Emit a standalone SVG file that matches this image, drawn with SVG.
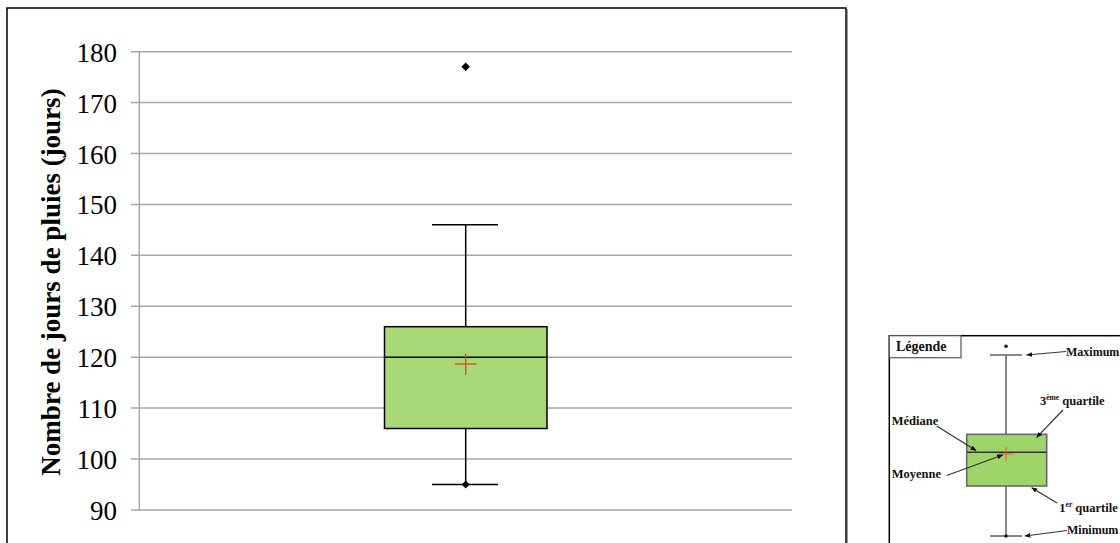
<svg xmlns="http://www.w3.org/2000/svg" width="1120" height="543" viewBox="0 0 1120 543">
<style>
.grid{stroke:#a6a6a6;stroke-width:1.5;fill:none}
.tick{font-family:"Liberation Serif",serif;font-size:27px;fill:#000;text-anchor:end}
.title{font-family:"Liberation Serif",serif;font-size:27px;font-weight:bold;fill:#000;text-anchor:middle}
.blk{stroke:#000;stroke-width:1.5;fill:none}
.lg{font-family:"Liberation Serif",serif;font-weight:bold;fill:#111}
.ann{stroke:#333;stroke-width:1.2;fill:none;marker-end:url(#ah)}
.lgline{stroke:#666;stroke-width:1.6;fill:none}
</style>
<defs>
<marker id="ah" viewBox="0 0 10 10" refX="9" refY="5" markerWidth="6" markerHeight="6" orient="auto" markerUnits="userSpaceOnUse">
<path d="M0,1 L10,5 L0,9 z" fill="#111"/>
</marker>
</defs>
<rect x="0" y="0" width="1120" height="543" fill="#fff"/>
<g id="chart-frame">
<rect x="7" y="8" width="839" height="545" fill="#fff" stroke="#000" stroke-width="1.5"/>
<line x1="847.5" y1="9" x2="847.5" y2="543" stroke="#999" stroke-width="1"/>
</g>
<g id="grid">
<line class="grid" x1="131" y1="51.7" x2="792" y2="51.7"/>
<line class="grid" x1="131" y1="102.6" x2="792" y2="102.6"/>
<line class="grid" x1="131" y1="153.5" x2="792" y2="153.5"/>
<line class="grid" x1="131" y1="204.4" x2="792" y2="204.4"/>
<line class="grid" x1="131" y1="255.3" x2="792" y2="255.3"/>
<line class="grid" x1="131" y1="306.3" x2="792" y2="306.3"/>
<line class="grid" x1="131" y1="357.2" x2="792" y2="357.2"/>
<line class="grid" x1="131" y1="408.1" x2="792" y2="408.1"/>
<line class="grid" x1="131" y1="459" x2="792" y2="459"/>
<line class="grid" x1="131" y1="510" x2="792" y2="510"/>
<line class="grid" x1="139.3" y1="51.7" x2="139.3" y2="510"/>
</g>
<g id="y-labels">
<text class="tick" x="117" y="61.7">180</text>
<text class="tick" x="117" y="112.6">170</text>
<text class="tick" x="117" y="163.5">160</text>
<text class="tick" x="117" y="214.4">150</text>
<text class="tick" x="117" y="265.3">140</text>
<text class="tick" x="117" y="316.3">130</text>
<text class="tick" x="117" y="367.2">120</text>
<text class="tick" x="117" y="418.1">110</text>
<text class="tick" x="117" y="469">100</text>
<text class="tick" x="117" y="520">90</text>
</g>
<g id="y-title">
<text class="title" transform="translate(60,282) rotate(-90)">Nombre de jours de pluies (jours)</text>
</g>
<g id="boxplot">
<line class="blk" x1="465.7" y1="224.8" x2="465.7" y2="326.7"/>
<line class="blk" x1="432" y1="224.8" x2="498" y2="224.8" stroke-width="2"/>
<rect x="384.5" y="326.7" width="162.5" height="101.8" fill="#a9d977" stroke="#000" stroke-width="1.5"/>
<line class="blk" x1="384.5" y1="357.2" x2="547" y2="357.2" stroke-width="2"/>
<line class="blk" x1="465.7" y1="428.5" x2="465.7" y2="484.5"/>
<line class="blk" x1="432" y1="484.5" x2="498" y2="484.5"/>
<path d="M465.7,480.5 L469.7,484.5 L465.7,488.5 L461.7,484.5 z" fill="#000"/>
<path d="M465.7,62.5 L470,66.8 L465.7,71.1 L461.4,66.8 z" fill="#000"/>
<line x1="455" y1="364" x2="476.4" y2="364" stroke="#f03a2a" stroke-width="1.3"/>
<line x1="465.7" y1="353.5" x2="465.7" y2="374.7" stroke="#f03a2a" stroke-width="1.3"/>
</g>
<g id="legend">
<rect x="889.3" y="335.7" width="240" height="220" fill="#fff" stroke="#000" stroke-width="1.5"/>
<rect x="889.3" y="335.7" width="71.7" height="22" fill="#fff" stroke="#555" stroke-width="1.2"/>
<text class="lg" x="896" y="351" font-size="14">Légende</text>
<line class="lgline" x1="1006" y1="355" x2="1006" y2="434.3"/>
<line class="lgline" x1="990" y1="355" x2="1022" y2="355"/>
<circle cx="1006" cy="346.3" r="1.8" fill="#111"/>
<rect x="966.7" y="434.3" width="80" height="51.7" fill="#9fd46a" stroke="#6a6a6a" stroke-width="1.6"/>
<line x1="966.7" y1="452.3" x2="1046.7" y2="452.3" stroke="#333" stroke-width="1.6"/>
<line x1="999" y1="454" x2="1013" y2="454" stroke="#f05a3a" stroke-width="1"/>
<line x1="1006" y1="447" x2="1006" y2="461" stroke="#f05a3a" stroke-width="1"/>
<line class="lgline" x1="1006" y1="486" x2="1006" y2="536"/>
<line class="lgline" x1="990" y1="536" x2="1022" y2="536"/>
<circle cx="1006" cy="536" r="1.8" fill="#111"/>
</g>
<g id="connectors">
<line class="ann" x1="1066" y1="351.5" x2="1026.7" y2="355"/>
<line class="ann" x1="1063" y1="410" x2="1036.7" y2="437.3"/>
<line class="ann" x1="936.7" y1="426" x2="976" y2="450.5"/>
<line class="ann" x1="946.7" y1="475.5" x2="1002.7" y2="455"/>
<line class="ann" x1="1057" y1="503" x2="1031.7" y2="487.7"/>
<line class="ann" x1="1067" y1="530.5" x2="1025" y2="536"/>
</g>
<g id="legend-labels">
<text class="lg" x="1066" y="356" font-size="12">Maximum</text>
<text class="lg" x="1040" y="405" font-size="12.5">3<tspan font-size="7.5" dy="-5">ème</tspan><tspan dy="5"> quartile</tspan></text>
<text class="lg" x="891.7" y="424.7" font-size="12.5">Médiane</text>
<text class="lg" x="891.7" y="478.3" font-size="12.5">Moyenne</text>
<text class="lg" x="1059.3" y="511.7" font-size="12.5">1<tspan font-size="7.5" dy="-5">er</tspan><tspan dy="5"> quartile</tspan></text>
<text class="lg" x="1067" y="534" font-size="12">Minimum</text>
</g>
</svg>
